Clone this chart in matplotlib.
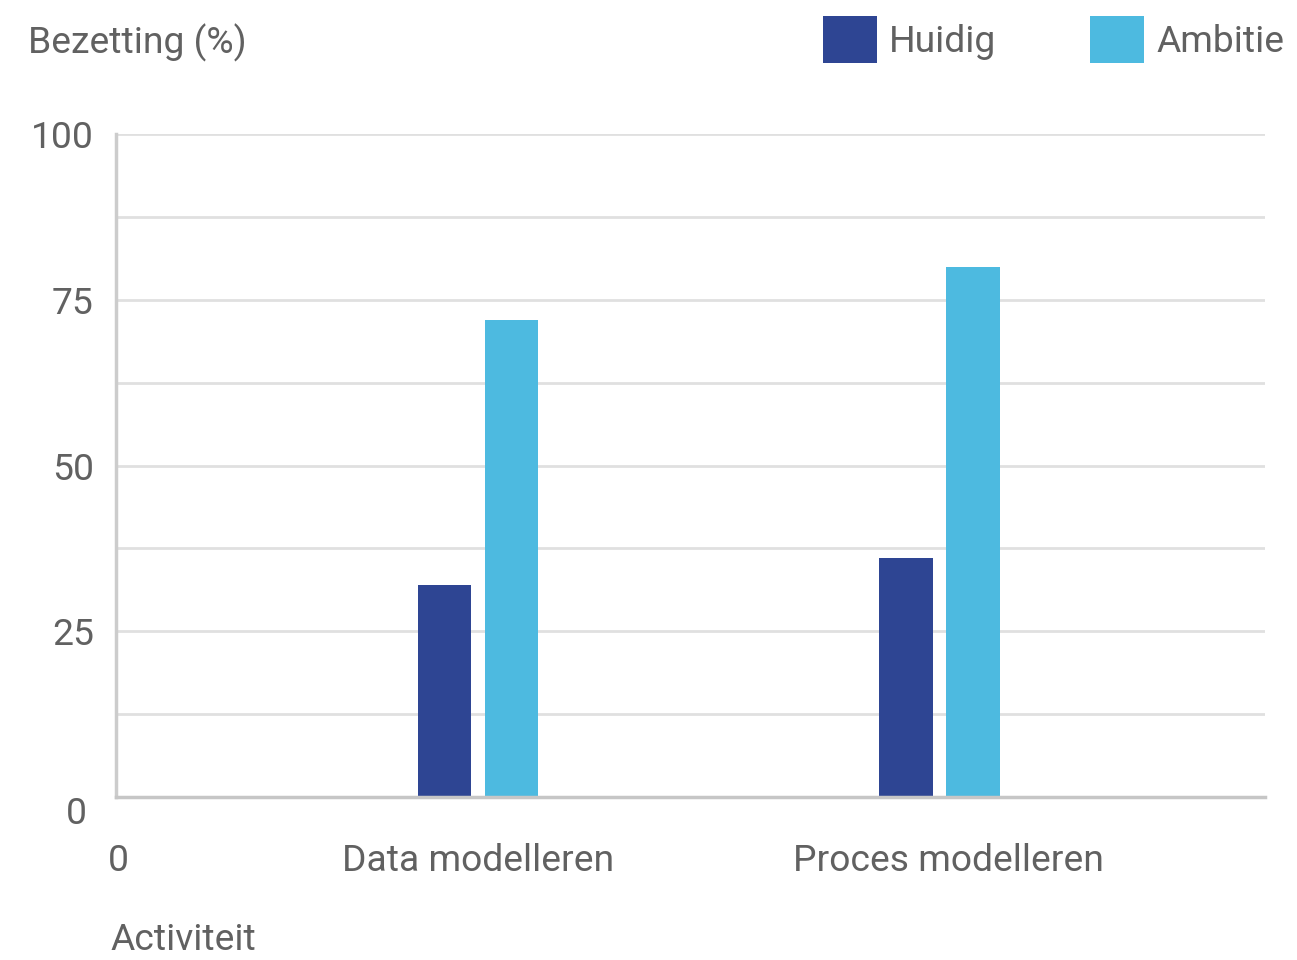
import matplotlib
matplotlib.use("Agg")
import matplotlib.pyplot as plt
import matplotlib.transforms as mtransforms
from matplotlib.patches import Rectangle
import numpy as np

plt.rcParams['font.family'] = ['Roboto', 'DejaVu Sans']

categories = ["Data modelleren", "Proces modelleren"]
series_names = ["Huidig", "Ambitie"]
huidig = [32, 36]
ambitie = [72, 80]
y_ticks = [0, 25, 50, 75, 100]
y_minor = [12.5, 37.5, 62.5, 87.5]
colors = ["#2E4593", "#4DBAE0"]
text_color = "#616161"
fs = 26.8

fig = plt.figure(figsize=(12.97, 9.6), dpi=100)
ax = fig.add_axes([116/1297, 1-797/960, (1265-116)/1297, (797-134)/960])

x = np.arange(1, len(categories)+1)
w = 0.115
off = 0.0726
ax.bar(x - off, huidig, width=w, color=colors[0], zorder=3)
ax.bar(x + off, ambitie, width=w, color=colors[1], zorder=3)

ax.set_xlim(0.2156, 2.7053)
ax.set_ylim(0, 100)

ax.set_yticks(y_ticks)
ax.set_yticks(y_minor, minor=True)
ax.grid(True, axis='y', which='both', color='#e0e0e0', linewidth=2, zorder=0)
ax.tick_params(axis='y', which='both', length=0, pad=16, labelsize=fs, labelcolor=text_color)
ax.set_yticklabels([str(v) for v in y_ticks])

xt = [0.22] + list(x)
ax.set_xticks(xt)
ax.set_xticklabels(["0"] + categories)
ax.tick_params(axis='x', length=0, pad=33, labelsize=fs, labelcolor=text_color)

for s in ['top', 'right']:
    ax.spines[s].set_visible(False)
ax.spines['left'].set_color('#cccccc')
ax.spines['left'].set_linewidth(2.5)
ax.spines['bottom'].set_color('#c6c6c6')
ax.spines['bottom'].set_linewidth(2.5)
ax.spines['left'].set_zorder(4)
ax.spines['bottom'].set_zorder(4)

# shift the y "0" label a bit down/left as in reference
lbl0 = ax.get_yticklabels()[0]
lbl0.set_transform(lbl0.get_transform() + mtransforms.ScaledTranslation(-7/100, -13/100, fig.dpi_scale_trans))
# Proces modelleren label sits slightly right of its group
lblp = ax.get_xticklabels()[2]
lblp.set_transform(lblp.get_transform() + mtransforms.ScaledTranslation(9/100, 0, fig.dpi_scale_trans))

fig.text(28/1297, 1-43/960, "Bezetting (%)", fontsize=fs, color=text_color, ha='left', va='center')
fig.text(110/1297, 1-940/960, "Activiteit", fontsize=fs, color=text_color, ha='left', va='center')

# legend
leg_x = [823, 1090]
for i, name in enumerate(series_names):
    fig.add_artist(Rectangle((leg_x[i]/1297, 1-63/960), 54/1297, 47/960,
                             transform=fig.transFigure, facecolor=colors[i], edgecolor='none'))
    fig.text((leg_x[i]+66)/1297, 1-42/960, name, fontsize=fs, color=text_color, ha='left', va='center')

fig.savefig("out.png", dpi=100, facecolor='white')
